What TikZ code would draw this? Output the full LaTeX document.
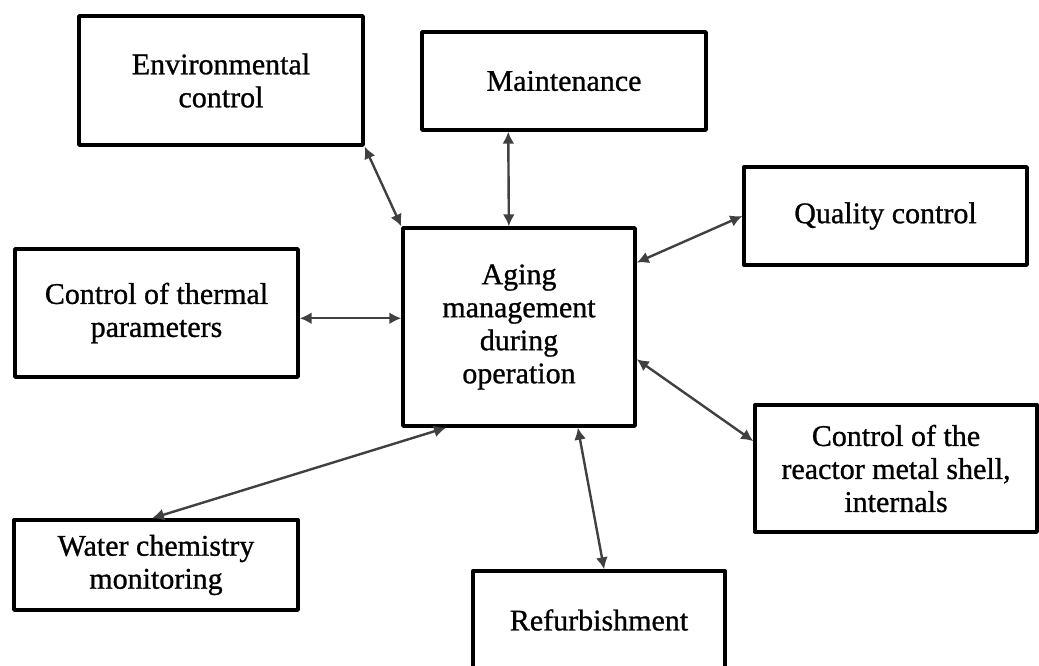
\documentclass[tikz,border=0pt]{standalone}
\usepackage{fontspec}
\setmainfont{Liberation Serif}
\newfontfamily\boxfont[FakeBold=0.9]{Liberation Serif}
\usetikzlibrary{positioning}
\usetikzlibrary{arrows.meta}
\usetikzlibrary{calc}

\begin{document}
\begin{tikzpicture}[x=1pt, y=-1pt,
	box/.style={draw, line width=3.4pt, line join=round, align=center, inner sep=0pt,
		font=\boxfont\fontsize{30}{33}\selectfont},
	link/.style={{Latex[length=12pt,width=12pt]}-{Latex[length=12pt,width=12pt]}, line width=2.4pt, draw=black!75}
	]
	\useasboundingbox (0,0) rectangle (1039,665);
	
	% Nodes
	\node[box, minimum width=232pt, minimum height=198pt] (aging) at (519,327) {Aging\\management\\during\\operation};
	\node[box, minimum width=284pt, minimum height=129pt] (env) at (221,80.5) {Environmental\\control};
	\node[box, minimum width=284pt, minimum height=98pt] (maint) at (564,81) {Maintenance};
	\node[box, minimum width=283pt, minimum height=98pt] (quality) at (885.5,216) {Quality control};
	\node[box, minimum width=283pt, minimum height=128pt] (thermal) at (156.5,313) {Control of thermal\\parameters};
	\node[box, minimum width=282pt, minimum height=127pt] (reactor) at (896,468.5) {Control of the\\reactor metal shell,\\internals};
	\node[box, minimum width=284pt, minimum height=90pt] (water) at (156,565) {Water chemistry\\monitoring};
	\node[box, minimum width=252pt, minimum height=98pt] (refurb) at (599,620) {Refurbishment};
	
	% Edges
	\draw[link] (env.south east) -- (aging.north west);
	\draw[link] ($(maint.south west)!0.306!(maint.south east)$) -- ($(aging.north west)!0.457!(aging.north east)$);
	\draw[link] (quality.west) -- ($(aging.north east)!0.18!(aging.south east)$);
	\coordinate (t) at ($(thermal.north east)!0.54!(thermal.south east)$);
	\draw[link] (t) -- (aging.west |- t);
	\draw[link] ($(aging.north east)!0.66!(aging.south east)$) -- ($(reactor.north west)!0.29!(reactor.south west)$);
	\draw[link] ($(aging.south west)!0.19!(aging.south east)$) -- ($(water.north west)!0.486!(water.north east)$);
	\draw[link] ($(aging.south west)!0.75!(aging.south east)$) -- ($(refurb.north west)!0.52!(refurb.north east)$);
\end{tikzpicture}
\end{document}
